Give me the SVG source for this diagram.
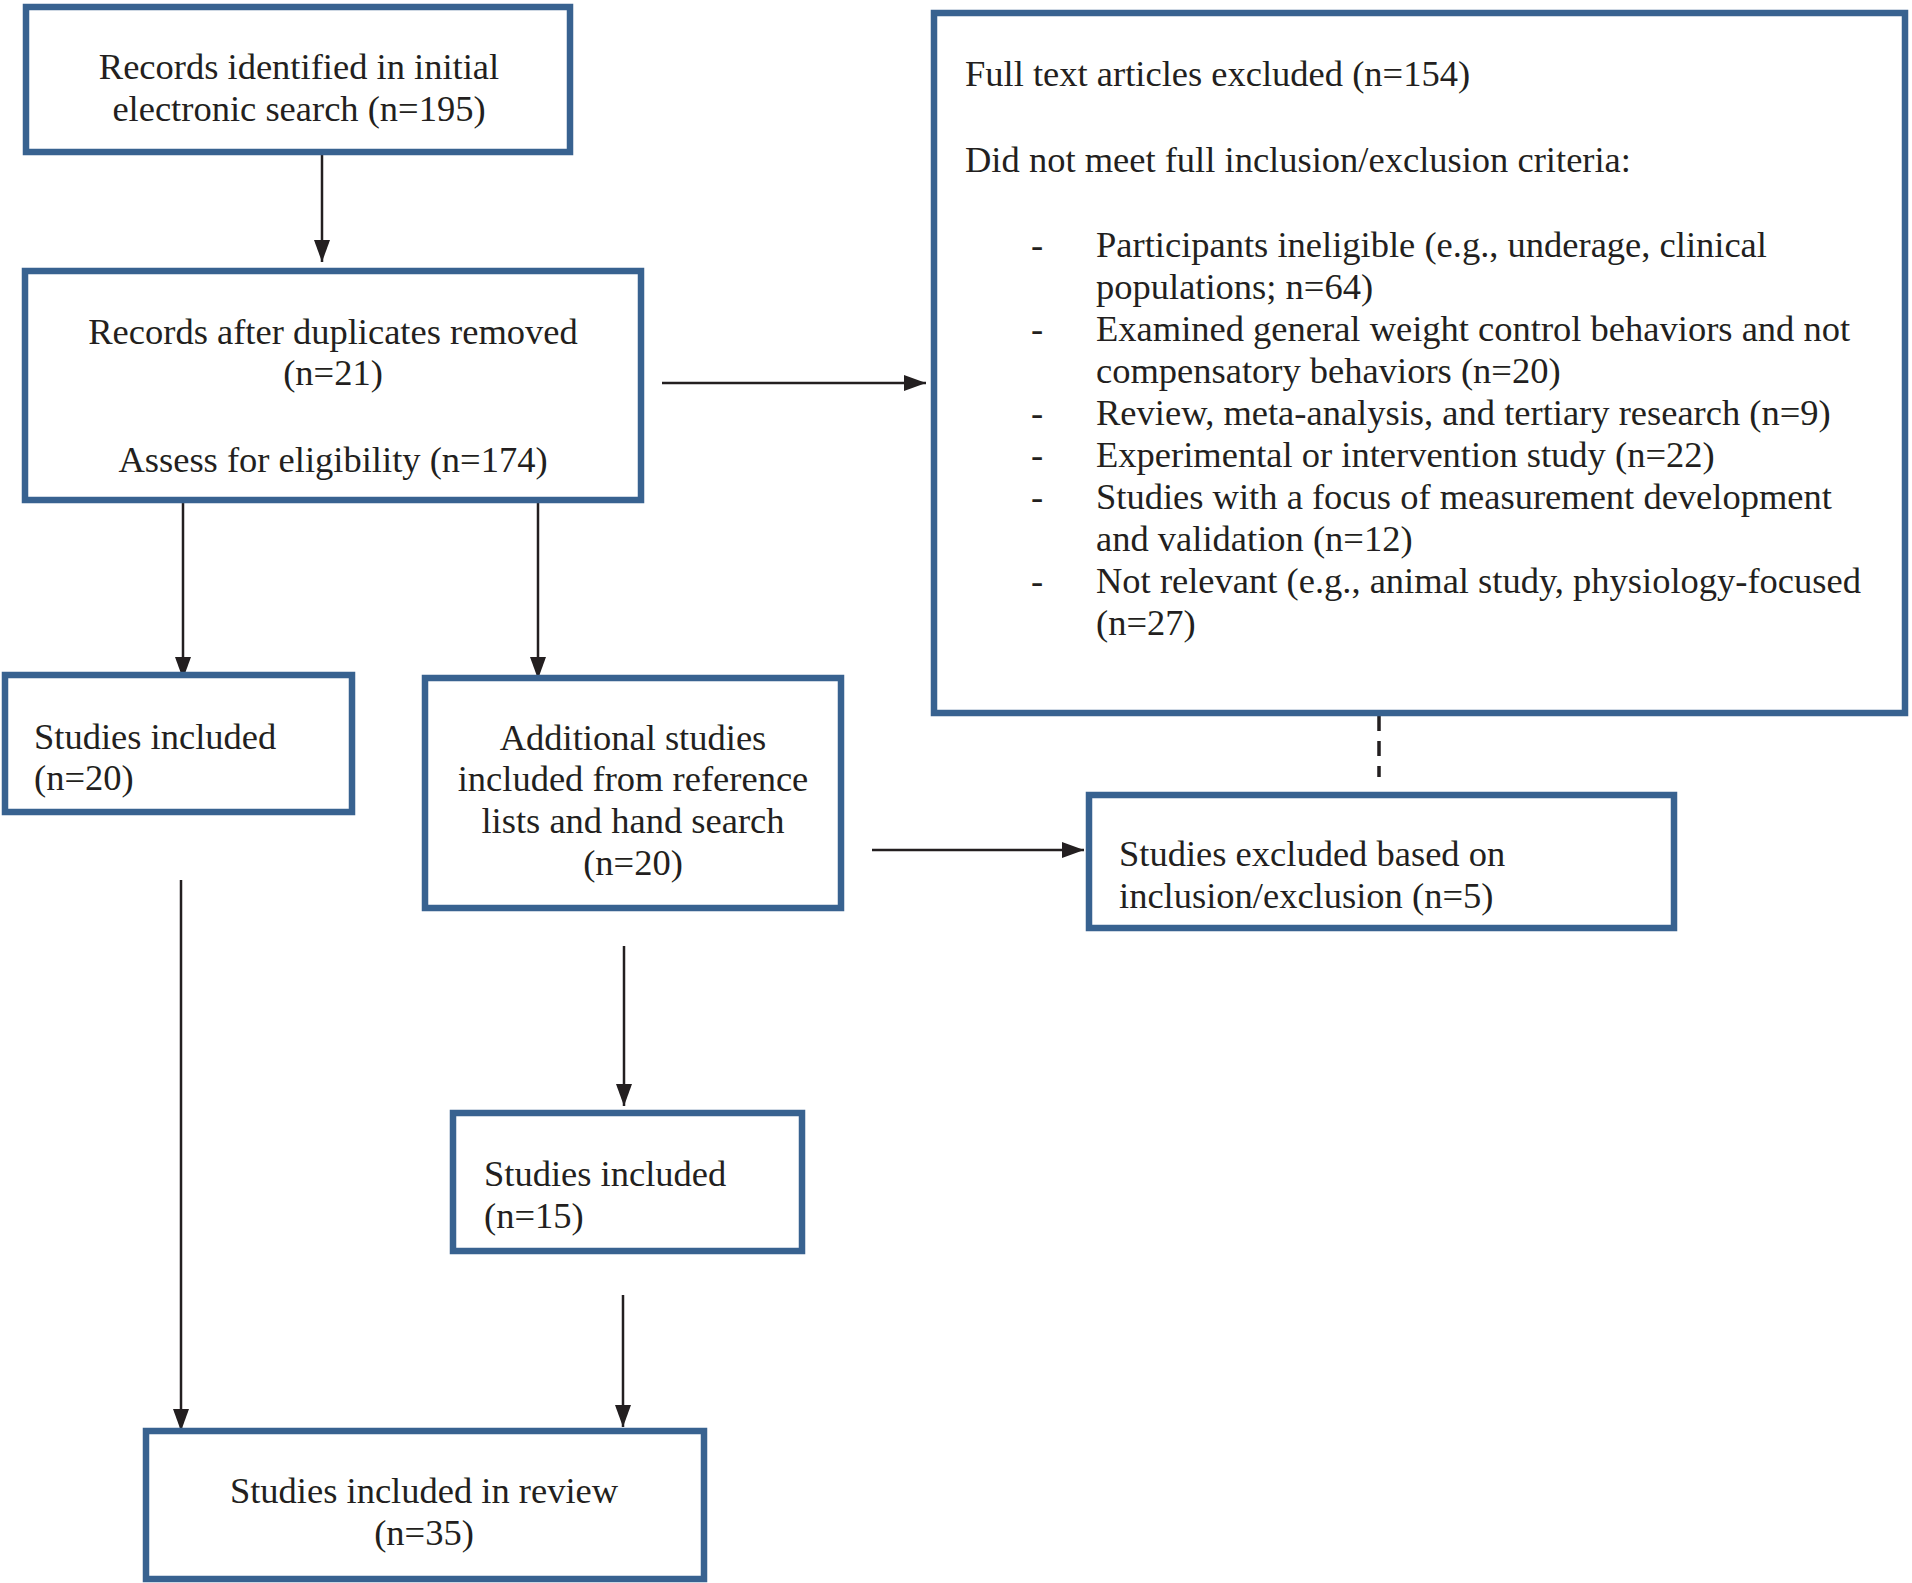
<svg xmlns="http://www.w3.org/2000/svg" width="1912" height="1583" viewBox="0 0 1912 1583">
<style>
.box{fill:#fff;stroke:#386290;stroke-width:6.5;}
.t{font-family:"Liberation Serif","Times New Roman",serif;font-size:36.5px;fill:#231f20;}
.m{text-anchor:middle;}
.ln{stroke:#231f20;stroke-width:2.5;fill:none;}
.dash{stroke:#231f20;stroke-width:3.5;fill:none;stroke-dasharray:15 10;}
</style>
<defs>
<marker id="ah" markerUnits="userSpaceOnUse" markerWidth="22" markerHeight="16" refX="22" refY="8" orient="auto">
<path d="M0,0 L22,8 L0,16 z" fill="#231f20"/>
</marker>
</defs>
<rect width="1912" height="1583" fill="#fff"/>
<g id="connectors">
<line class="ln" x1="322" y1="155" x2="322" y2="262" marker-end="url(#ah)"/>
<line class="ln" x1="662" y1="383" x2="926" y2="383" marker-end="url(#ah)"/>
<line class="ln" x1="183" y1="500" x2="183" y2="679" marker-end="url(#ah)"/>
<line class="ln" x1="538" y1="500" x2="538" y2="679" marker-end="url(#ah)"/>
<line class="ln" x1="872" y1="850" x2="1084" y2="850" marker-end="url(#ah)"/>
<line class="dash" x1="1379" y1="716" x2="1379" y2="777"/>
<line class="ln" x1="181" y1="880" x2="181" y2="1431" marker-end="url(#ah)"/>
<line class="ln" x1="624" y1="946" x2="624" y2="1106" marker-end="url(#ah)"/>
<line class="ln" x1="623" y1="1295" x2="623" y2="1427" marker-end="url(#ah)"/>
</g>
<g id="n1">
<rect class="box" x="26" y="7" width="544" height="145"/>
<text class="t m" x="299" y="79">Records identified in initial</text>
<text class="t m" x="299" y="121">electronic search (n=195)</text>
</g>
<g id="n2">
<rect class="box" x="25" y="271" width="616" height="229"/>
<text class="t m" x="333" y="344">Records after duplicates removed</text>
<text class="t m" x="333" y="385">(n=21)</text>
<text class="t m" x="333" y="472">Assess for eligibility (n=174)</text>
</g>
<g id="n3">
<rect class="box" x="934" y="13" width="971" height="700"/>
<text class="t" x="965" y="86">Full text articles excluded (n=154)</text>
<text class="t" x="965" y="172">Did not meet full inclusion/exclusion criteria:</text>
<text class="t" x="1031" y="257">-</text>
<text class="t" x="1096" y="257">Participants ineligible (e.g., underage, clinical</text>
<text class="t" x="1096" y="299">populations; n=64)</text>
<text class="t" x="1031" y="341">-</text>
<text class="t" x="1096" y="341">Examined general weight control behaviors and not</text>
<text class="t" x="1096" y="383">compensatory behaviors (n=20)</text>
<text class="t" x="1031" y="425">-</text>
<text class="t" x="1096" y="425">Review, meta-analysis, and tertiary research (n=9)</text>
<text class="t" x="1031" y="467">-</text>
<text class="t" x="1096" y="467">Experimental or intervention study (n=22)</text>
<text class="t" x="1031" y="509">-</text>
<text class="t" x="1096" y="509">Studies with a focus of measurement development</text>
<text class="t" x="1096" y="551">and validation (n=12)</text>
<text class="t" x="1031" y="593">-</text>
<text class="t" x="1096" y="593">Not relevant (e.g., animal study, physiology-focused</text>
<text class="t" x="1096" y="635">(n=27)</text>
</g>
<g id="n4">
<rect class="box" x="5" y="675" width="347" height="137"/>
<text class="t" x="34" y="749">Studies included</text>
<text class="t" x="34" y="790">(n=20)</text>
</g>
<g id="n5">
<rect class="box" x="425" y="678" width="416" height="230"/>
<text class="t m" x="633" y="750">Additional studies</text>
<text class="t m" x="633" y="791">included from reference</text>
<text class="t m" x="633" y="833">lists and hand search</text>
<text class="t m" x="633" y="875">(n=20)</text>
</g>
<g id="n6">
<rect class="box" x="1089" y="795" width="585" height="133"/>
<text class="t" x="1119" y="866">Studies excluded based on</text>
<text class="t" x="1119" y="908">inclusion/exclusion (n=5)</text>
</g>
<g id="n7">
<rect class="box" x="453" y="1113" width="349" height="138"/>
<text class="t" x="484" y="1186">Studies included</text>
<text class="t" x="484" y="1228">(n=15)</text>
</g>
<g id="n8">
<rect class="box" x="146" y="1431" width="558" height="148"/>
<text class="t m" x="424" y="1503">Studies included in review</text>
<text class="t m" x="424" y="1545">(n=35)</text>
</g>
</svg>
